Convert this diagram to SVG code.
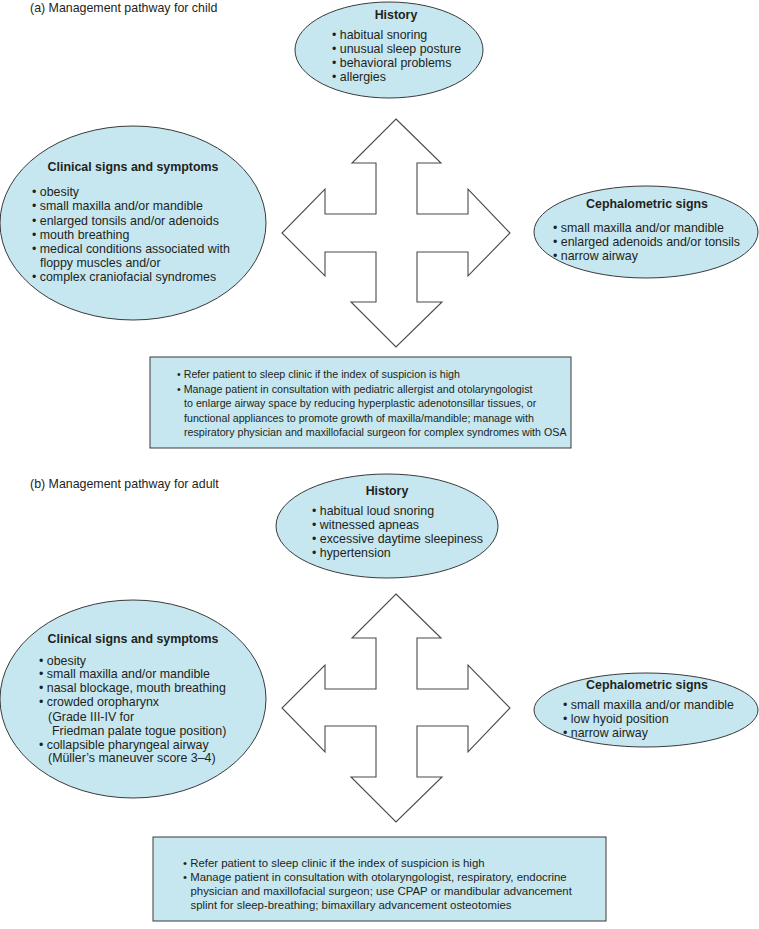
<svg xmlns="http://www.w3.org/2000/svg" width="759" height="929" viewBox="0 0 759 929">
<style>
text{font-family:"Liberation Sans",Arial,sans-serif;font-size:12.4px;fill:#231f20}
.t{font-weight:bold;text-anchor:middle}
.b1 text{font-size:10.7px}
.b2 text{font-size:11.4px}
.n{fill:#c6e7f0;stroke:#3a3a3a;stroke-width:1}
.a{fill:#fff;stroke:#4a4a4a;stroke-width:1.1;stroke-linejoin:miter}
</style>
<rect width="759" height="929" fill="#fff"/>
<text x="30" y="11.5">(a) Management pathway for child</text>
<text x="30" y="488">(b) Management pathway for adult</text>

<g id="connectors">
<polygon class="a" points="396,119 441,163 417,163 417,214 468,214 468,189 510,233 468,276 468,252 417,252 417,302 442,302 396,347 351,302 376,302 376,252 325,252 325,276 282,233 325,189 325,214 376,214 376,163 352,163"/>
<polygon class="a" points="396,594 441,638 417,638 417,689 468,689 468,665 510,708 468,752 468,726 417,726 417,777 442,777 396,822 351,777 376,777 376,726 325,726 325,752 282,708 325,665 325,689 376,689 376,638 352,638"/>
</g>

<g id="child-history">
<ellipse class="n" cx="389" cy="50" rx="94" ry="48"/>
<text class="t" x="396" y="19">History</text>
<text x="332" y="39">• habitual snoring</text>
<text x="332" y="53">• unusual sleep posture</text>
<text x="332" y="67">• behavioral problems</text>
<text x="332" y="81">• allergies</text>
</g>

<g id="child-clinical">
<ellipse class="n" cx="133" cy="223" rx="133" ry="97"/>
<text class="t" x="133" y="171">Clinical signs and symptoms</text>
<text x="32" y="196">• obesity</text>
<text x="32" y="210">• small maxilla and/or mandible</text>
<text x="32" y="224.5">• enlarged tonsils and/or adenoids</text>
<text x="32" y="238.5">• mouth breathing</text>
<text x="32" y="252.5">• medical conditions associated with</text>
<text x="40" y="266.5">floppy muscles and/or</text>
<text x="32" y="280.5">• complex craniofacial syndromes</text>
</g>

<g id="child-cephalometric">
<ellipse class="n" cx="646" cy="232" rx="112" ry="46"/>
<text class="t" x="647" y="208">Cephalometric signs</text>
<text x="553" y="232">• small maxilla and/or mandible</text>
<text x="553" y="246">• enlarged adenoids and/or tonsils</text>
<text x="553" y="260">• narrow airway</text>
</g>

<g id="child-management" class="b1">
<rect class="n" x="150" y="357" width="421" height="91"/>
<text x="177" y="378">• Refer patient to sleep clinic if the index of suspicion is high</text>
<text x="177" y="392.5">• Manage patient in consultation with pediatric allergist and otolaryngologist</text>
<text x="184" y="407">to enlarge airway space by reducing hyperplastic adenotonsillar tissues, or</text>
<text x="184" y="421.5">functional appliances to promote growth of maxilla/mandible; manage with</text>
<text x="184" y="436">respiratory physician and maxillofacial surgeon for complex syndromes with OSA</text>
</g>

<g id="adult-history">
<ellipse class="n" cx="387" cy="526" rx="111" ry="52"/>
<text class="t" x="387" y="495">History</text>
<text x="312" y="515">• habitual loud snoring</text>
<text x="312" y="529">• witnessed apneas</text>
<text x="312" y="543">• excessive daytime sleepiness</text>
<text x="312" y="557">• hypertension</text>
</g>

<g id="adult-clinical">
<ellipse class="n" cx="133" cy="699" rx="133" ry="99"/>
<text class="t" x="133" y="643">Clinical signs and symptoms</text>
<text x="39" y="664.5">• obesity</text>
<text x="39" y="678">• small maxilla and/or mandible</text>
<text x="39" y="692">• nasal blockage, mouth breathing</text>
<text x="39" y="706">• crowded oropharynx</text>
<text x="48" y="720.5">(Grade III-IV for</text>
<text x="52" y="734.5">Friedman palate togue position)</text>
<text x="39" y="748.5">• collapsible pharyngeal airway</text>
<text x="48" y="762">(Müller’s maneuver score 3–4)</text>
</g>

<g id="adult-cephalometric">
<ellipse class="n" cx="646" cy="710" rx="112" ry="37"/>
<text class="t" x="647" y="689">Cephalometric signs</text>
<text x="563" y="709">• small maxilla and/or mandible</text>
<text x="563" y="723">• low hyoid position</text>
<text x="563" y="737">• narrow airway</text>
</g>

<g id="adult-management" class="b2">
<rect class="n" x="153" y="837" width="453" height="84"/>
<text x="183" y="867">• Refer patient to sleep clinic if the index of suspicion is high</text>
<text x="183" y="881">• Manage patient in consultation with otolaryngologist, respiratory, endocrine</text>
<text x="190.5" y="895">physician and maxillofacial surgeon; use CPAP or mandibular advancement</text>
<text x="190.5" y="909">splint for sleep-breathing; bimaxillary advancement osteotomies</text>
</g>
</svg>
